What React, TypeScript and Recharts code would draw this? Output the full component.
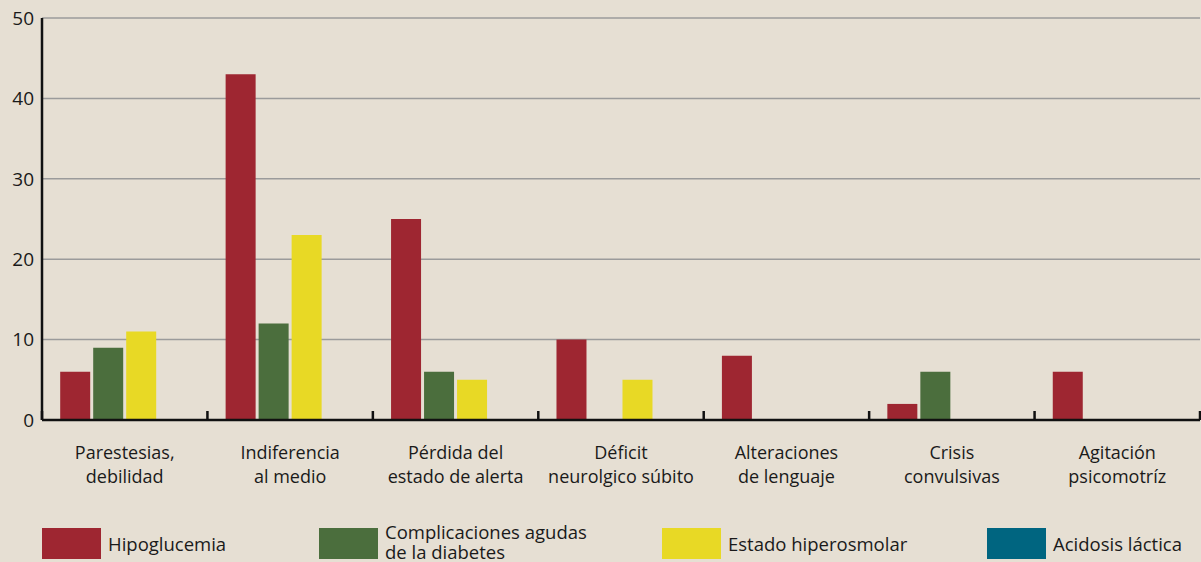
import React from 'react';
import { BarChart, Bar, XAxis, YAxis, CartesianGrid, Legend } from 'recharts';

// Síntomas neurológicos por complicación
const categories = [
  'Parestesias,\ndebilidad',
  'Indiferencia\nal medio',
  'Pérdida del\nestado de alerta',
  'Déficit\nneurolgico súbito',
  'Alteraciones\nde lenguaje',
  'Crisis\nconvulsivas',
  'Agitación\npsicomotríz',
];
const hipoglucemia = [6, 43, 25, 10, 8, 2, 6];
const complicaciones = [9, 12, 6, 0, 0, 6, 0];
const hiperosmolar = [11, 23, 5, 5, 0, 0, 0];
const acidosis = [0, 0, 0, 0, 0, 0, 0];
const yTicks = [0, 10, 20, 30, 40, 50];

const seriesKeys = ['hipo', 'compl', 'hiper', 'acid'];
const seriesNames = [
  'Hipoglucemia',
  'Complicaciones agudas\nde la diabetes',
  'Estado hiperosmolar',
  'Acidosis láctica',
];
const seriesColors = ['#9e2631', '#4b6e3d', '#e8d925', '#006580'];

const data = categories.map((category, i) => ({
  category,
  hipo: hipoglucemia[i],
  compl: complicaciones[i],
  hiper: hiperosmolar[i],
  acid: acidosis[i],
}));

const W = 1201;
const H = 562;
const FONT = '"Open Sans", sans-serif';
const INK = '#1a1a1a';
const legendLeft = [42, 319, 662, 987];

function CategoryTick(props: any) {
  const { x, y, payload, index } = props;
  const half = payload.offset ?? (W - 43) / categories.length / 2;
  const lines = String(payload.value).split('\n');
  return (
    <g>
      <line x1={x - half} x2={x - half} y1={y - 9} y2={y} stroke="#111" strokeWidth={2.5} />
      {index === categories.length - 1 && (
        <line x1={x + half} x2={x + half} y1={y - 9} y2={y} stroke="#111" strokeWidth={2.5} />
      )}
      <text x={x} y={y + 39} textAnchor="middle" fontFamily={FONT} fontSize={18} fill={INK}>
        {lines.map((l, i) => (
          <tspan key={i} x={x} dy={i === 0 ? 0 : 24}>
            {l}
          </tspan>
        ))}
      </text>
    </g>
  );
}

function LegendBox() {
  return (
    <div style={{ position: 'relative', width: W, height: 42, fontFamily: FONT, color: INK }}>
      {seriesNames.map((name, i) => {
        const multi = name.includes('\n');
        return (
          <div
            key={name}
            style={{
              position: 'absolute',
              left: legendLeft[i],
              top: 8,
              height: 31,
              display: 'flex',
              alignItems: 'center',
            }}
          >
            <div style={{ width: 59, height: 31, background: seriesColors[i], flexShrink: 0 }} />
            <div
              style={{
                marginLeft: 7,
                fontSize: 18.5,
                lineHeight: multi ? '20px' : '22px',
                whiteSpace: 'pre',
                position: 'relative',
                top: multi ? -2 : 0,
              }}
            >
              {name}
            </div>
          </div>
        );
      })}
    </div>
  );
}

export default function App() {
  return (
    <div style={{ position: 'absolute', left: 0, top: 0, width: W, height: H, background: '#e6dfd3', overflow: 'hidden' }}>
      <BarChart
        width={W}
        height={H}
        data={data}
        margin={{ top: 18, right: 1, bottom: 0, left: 0 }}
        barCategoryGap="11%"
        barGap={3}
      >
        <CartesianGrid vertical={false} stroke="#9b9b9b" strokeWidth={1.5} />
        <XAxis
          dataKey="category"
          height={142}
          interval={0}
          tickLine={false}
          tickSize={0}
          tickMargin={0}
          axisLine={{ stroke: '#111', strokeWidth: 2.5 }}
          tick={<CategoryTick />}
        />
        <YAxis
          width={42}
          domain={[0, 50]}
          ticks={yTicks}
          tickLine={false}
          tickSize={6}
          tickMargin={2}
          axisLine={{ stroke: '#111', strokeWidth: 2.5 }}
          tick={{ fontSize: 19, fill: INK, fontFamily: FONT }}
        />
        <Legend
          layout="horizontal"
          verticalAlign="middle"
          align="center"
          wrapperStyle={{ left: 0, top: 520, width: W, height: 42 }}
          content={() => <LegendBox />}
        />
        {seriesKeys.map((k, i) => (
          <Bar key={k} dataKey={k} name={seriesNames[i]} fill={seriesColors[i]} isAnimationActive={false} />
        ))}
      </BarChart>
    </div>
  );
}
